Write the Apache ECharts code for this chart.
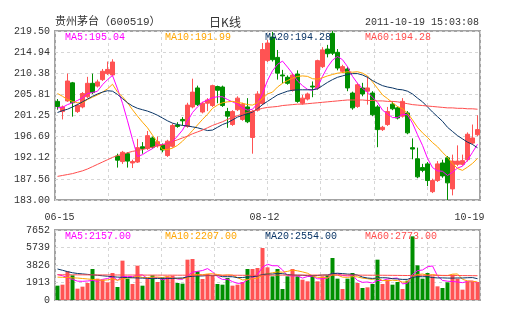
<!DOCTYPE html>
<html><head><meta charset="utf-8">
<script src="https://cdn.jsdelivr.net/npm/echarts@6/dist/echarts.min.js"></script>
<style>html,body{margin:0;padding:0;background:#fff}#c{width:505px;height:330px}</style>
</head><body><div id="c"></div>
<script>
const dates = ['06-15','06-16','06-17','06-20','06-21','06-22','06-23','06-24','06-27','06-28','06-29','06-30',
'07-01','07-04','07-05','07-06','07-07','07-08','07-11','07-12','07-13','07-14','07-15','07-18','07-19','07-20','07-21','07-22','07-25','07-26','07-27','07-28','07-29',
'08-01','08-02','08-03','08-04','08-05','08-08','08-09','08-10','08-11','08-12','08-15','08-16','08-17','08-18','08-19','08-22','08-23','08-24','08-25','08-26','08-29','08-30','08-31',
'09-01','09-02','09-05','09-06','09-07','09-08','09-09','09-13','09-14','09-15','09-16','09-19','09-20','09-21','09-22','09-23','09-26','09-27','09-28','09-29','09-30',
'10-10','10-11','10-12','10-13','10-14','10-17','10-18','10-19'];

const opens = [204.3,202.1,204.4,208.3,202.1,203.1,205.3,208.2,207.6,209.0,210.3,210.0,
192.5,191.3,193.0,191.0,191.2,194.5,194.1,196.4,194.7,194.9,192.6,194.6,199.2,200.4,198.9,203.1,207.2,202.0,203.9,203.4,207.5,
207.4,202.1,199.3,202.5,200.4,203.1,196.5,202.4,203.8,213.1,218.2,213.8,210.0,209.5,206.7,210.2,203.9,204.8,207.6,207.2,211.8,215.6,219.0,
214.9,210.8,211.3,206.1,203.2,207.2,206.5,206.1,203.1,198.2,199.3,203.7,202.9,201.1,201.8,194.3,191.9,190.0,190.8,184.8,187.2,
191.0,192.1,185.4,190.7,190.7,191.7,195.3,197.1];
const closes = [203.2,203.1,208.7,204.0,203.5,206.0,208.2,206.2,208.5,210.8,211.2,212.8,
191.6,193.3,191.4,191.3,194.3,194.1,196.9,194.4,195.6,193.8,195.7,199.1,198.9,200.1,203.5,206.3,203.6,203.9,204.6,207.7,206.7,
203.4,201.1,202.1,205.0,203.7,199.9,202.1,205.9,215.5,216.9,213.3,210.4,209.8,208.2,210.0,204.3,205.0,205.9,207.4,213.1,215.4,214.6,214.7,
211.5,211.8,207.2,202.9,207.9,205.9,207.2,201.4,198.2,198.7,202.1,202.7,200.7,204.3,197.5,194.0,188.0,189.4,187.2,187.2,190.8,
188.2,186.7,191.4,191.4,191.5,197.2,196.4,198.2];
const lows = [202.5,200.4,204.2,201.0,201.8,202.8,205.0,205.9,207.3,208.7,210.0,209.7,
190.0,190.8,190.0,189.9,191.0,193.0,193.8,194.1,194.3,193.3,192.3,194.3,198.6,199.1,198.6,202.8,203.3,201.7,202.2,203.1,203.9,
203.1,198.6,199.0,202.2,200.1,199.6,193.0,202.1,203.5,212.8,212.9,209.0,208.2,207.9,206.4,204.0,203.6,204.5,205.2,206.8,211.5,213.8,214.3,
211.0,210.4,206.5,202.5,202.9,205.4,203.6,201.1,194.4,197.9,199.0,202.4,200.4,200.8,197.2,191.8,187.7,189.0,186.0,184.5,186.9,
187.8,183.0,184.0,190.3,190.4,191.3,195.0,196.8];
const highs = [204.8,203.4,210.3,208.5,203.8,206.3,209.6,210.3,209.0,211.3,212.9,213.4,
193.0,193.6,193.3,191.7,196.2,195.5,197.9,196.7,196.7,195.2,196.0,199.5,199.8,200.9,204.0,209.2,207.7,204.2,205.0,207.9,207.7,
207.7,202.9,202.4,205.4,204.0,205.0,202.4,206.5,216.9,217.6,219.3,215.4,211.1,209.9,210.4,211.0,205.7,206.2,208.6,213.3,216.0,216.5,219.5,
215.6,212.2,211.8,206.4,208.3,208.3,209.7,206.5,203.5,199.0,203.1,204.3,203.2,205.0,202.2,196.3,194.3,190.8,191.2,187.6,191.4,
191.7,192.5,192.8,194.8,192.8,197.6,199.3,201.3];

const volumes = [1567,1676,3134,2697,1239,1458,1858,3389,2332,2223,1931,2952,
1421,4300,2332,1749,3753,1567,2332,2697,1968,2405,2587,2660,1858,1786,4409,4482,3134,2296,2842,2660,1749,
1676,2405,1567,1676,1968,3389,3389,3498,5685,3571,2587,3389,1203,2587,3389,2587,2223,2041,2697,2041,2587,2697,4591,
2332,1203,2332,2952,1858,1312,1385,1749,4409,1749,2223,1676,1968,1203,2114,6960,3790,2332,2952,2587,1494,
1312,1931,2769,2332,1130,2041,2041,1968];

const ma5 = [202.9,203.0,203.6,204.0,204.5,205.1,206.0,206.2,206.5,207.9,209.0,209.9,207.0,203.9,200.1,196.1,192.4,192.8,193.5,194.1,194.9,195.0,
195.2,195.6,196.8,198.1,200.0,201.9,203.1,204.1,204.6,205.1,205.3,205.3,204.7,204.2,203.7,202.9,202.4,202.6,203.8,206.0,208.8,
210.9,212.3,213.0,211.7,210.3,208.7,207.7,206.9,206.7,207.3,209.7,211.7,213.2,214.0,213.3,211.8,209.7,208.2,207.1,206.3,205.2,204.1,202.4,201.6,200.8,200.8,
201.5,201.4,199.6,197.1,194.8,192.0,190.0,189.3,189.2,188.3,189.0,189.9,190.3,191.6,193.3,195.04];
const ma10 = [206.0,205.4,204.7,204.3,204.0,204.0,204.7,205.2,205.7,206.3,207.0,208.0,206.3,205.3,204.0,202.5,201.1,199.8,198.6,197.0,195.5,193.9,
193.9,194.2,194.8,195.7,196.8,198.0,199.2,200.4,201.5,202.8,203.5,204.0,204.2,204.3,204.1,203.9,203.6,203.5,204.0,204.9,205.9,
206.3,207.4,208.2,208.8,209.3,209.7,
209.8,209.7,209.2,209.1,209.4,209.8,210.1,210.4,210.5,210.7,210.6,210.7,210.4,209.8,208.5,207.1,205.7,204.9,204.0,203.2,
202.7,201.8,200.3,198.7,197.5,196.5,195.4,194.5,193.3,192.2,190.9,189.8,189.4,190.1,190.9,191.99];
const ma20 = [201.9,202.3,202.6,203.1,203.6,204.2,204.8,205.4,205.9,206.3,206.6,206.5,205.8,204.9,204.0,203.3,202.8,202.5,202.2,201.8,201.3,200.7,200.1,
199.6,199.3,199.1,199.0,198.8,198.6,198.3,198.0,198.1,198.7,199.3,199.7,200.3,200.9,201.3,201.6,202.0,202.7,203.6,204.3,
205.0,205.7,206.1,206.5,206.7,206.8,206.8,206.8,206.8,207.0,207.7,208.4,209.0,209.5,209.8,210.1,210.3,210.3,210.0,209.5,208.8,208.2,207.7,207.4,207.2,206.9,
206.8,206.5,205.9,205.0,204.2,203.1,202.0,201.0,200.0,198.7,197.8,196.9,196.2,195.5,195.0,194.28];
const ma60 = [188.1,188.3,188.5,188.7,189.0,189.3,189.7,190.2,190.7,191.2,191.7,192.2,192.6,192.9,193.2,193.5,193.7,193.9,194.2,194.4,194.7,194.9,195.2,
195.6,196.0,196.4,196.8,197.3,197.7,198.1,198.6,199.1,199.5,199.9,200.4,200.8,201.2,201.6,201.9,202.2,202.5,202.8,203.0,
203.1,203.2,203.4,203.5,203.6,203.7,203.7,203.8,203.9,204.0,204.1,204.2,204.3,204.4,204.5,204.6,204.6,204.6,204.6,204.5,204.5,204.4,204.4,204.3,204.3,204.2,
204.0,203.8,203.6,203.5,203.4,203.3,203.2,203.1,203.0,202.9,202.9,202.8,202.8,202.7,202.7,202.6];

const vma5 = [2780,2650,2450,2250,2063,2041,2077,2128,2055,2252,2347,2565,2172,2565,2587,2551,2711,2740,2347,2420,2463,2194,2398,2463,2296,2259,2660,3039,3134,3221,3433,3083,2536,2245,2266,2011,1815,1858,2201,2398,2784,3586,3906,3746,3746,3287,2667,2631,2631,2398,2565,2587,2318,2318,2413,2923,2850,2682,2631,2682,2135,1931,1968,1851,2143,2121,2303,2361,2405,1764,1837,2784,3207,3280,3630,3724,2631,2135,2055,2019,1968,1895,2041,2063,1902];
const vma10 = [2500,2480,2450,2420,2400,2350,2300,2250,2200,2158,2194,2321,2150,2310,2420,2449,2638,2456,2456,2504,2507,2453,2569,2405,2358,2361,2427,2719,2799,2759,2846,2872,2788,2690,2744,2722,2449,2197,2223,2332,2398,2701,2882,2974,3072,3036,3127,3269,3189,3072,2926,2627,2475,2475,2406,2744,2719,2500,2475,2548,2529,2391,2325,2241,2413,2128,2117,2165,2128,1954,1979,2544,2784,2843,2697,2781,2708,2671,2668,2825,2846,2263,2088,2059,1961];
const vma20 = [3390,3250,3100,2980,2900,2850,2800,2750,2700,2650,2600,2550,2500,2480,2450,2430,2410,2390,2370,2331,2351,2387,2360,2358,2389,2405,2533,2588,2628,2632,2677,2663,2679,2548,2551,2542,2438,2458,2511,2546,2622,2787,2835,2832,2908,2879,2788,2733,2706,2702,2662,2664,2679,2725,2739,2890,2923,2885,2832,2810,2728,2509,2400,2358,2410,2436,2418,2333,2302,2251,2254,2468,2555,2542,2555,2455,2413,2418,2398,2390,2413,2404,2436,2451,2329];
const vma60 = [2760,2760,2755,2755,2750,2750,2745,2745,2740,2740,2740,2735,2735,2730,2730,2730,2725,2725,2720,2720,2720,
2715,2715,2715,2710,2710,2710,2710,2710,2715,2715,2715,2715,2710,2710,2705,2705,2700,2700,2700,2700,2705,
2710,2715,2720,2720,2720,2725,2725,2725,2725,2725,2725,2725,2725,2730,2730,2730,2730,2725,2720,2715,2710,
2705,2710,2705,2700,2695,2690,2680,2675,2690,2700,2700,2700,2700,2695,2690,2685,2680,2675,2670,2665,2660,2655];

const priceTicks = [183,187.5625,192.125,196.6875,201.25,205.8125,210.375,214.9375,219.5];
const priceTickLabels = ['183.00','187.56','192.12','196.69','201.25','205.81','210.38','214.94','219.50'];
const volTicks = [0,1913,3826,5739,7652];
const volTickLabels = ['0','1913','3826','5739','7652'];
const dateLabelIdx = [0,42,84];
const titleText = '贵州茅台（600519）';
const kindText = '日K线';
const timeText = '2011-10-19 15:03:08';
const priceLegend = ['MA5:195.04','MA10:191.99','MA20:194.28','MA60:194.28'];
const volLegend = ['MA5:2157.00','MA10:2207.00','MA20:2554.00','MA60:2773.00'];

const UP='#ff5353', DOWN='#008f00';
const maColors = ['#ff00ff','#ffa500','#0a3566','#ff4d4d'];
const MONO = '"Liberation Mono","DejaVu Sans Mono",monospace';
const TXT = '#333';

const candleData = opens.map((o,i)=>[o, closes[i], lows[i], highs[i]]);
const volData = volumes.map((v,i)=>({value:v, itemStyle:{color: closes[i]>=opens[i]?UP:DOWN}}));

const GL=55, GW=425;
const dashed = {show:true, lineStyle:{color:'#d6d6d6', type:[3,3], width:1}};
function lineSeries(name,data,color,xi,yi){
  return {name, type:'line', data, xAxisIndex:xi, yAxisIndex:yi, showSymbol:false, symbol:'none',
    lineStyle:{color, width:1}, itemStyle:{color}, animation:false, silent:true, z:3};
}
function tickLabel(ticks, labels){
  return (v)=>{const k=ticks.findIndex(t=>Math.abs(t-v)<1e-6); return k>=0?labels[k]:'';};
}
const graphics = [
  {type:'text', x:GL, y:22, style:{text:titleText, font:'11px '+MONO+',"Noto Sans CJK SC"', fill:TXT, textVerticalAlign:'middle', verticalAlign:'middle'}},
  {type:'text', x:225, y:22, style:{text:kindText, font:'12px "Noto Sans CJK SC"', fill:TXT, textAlign:'center', align:'center', textVerticalAlign:'middle', verticalAlign:'middle'}},
  {type:'text', x:479, y:22, style:{text:timeText, font:'10px '+MONO, fill:TXT, textAlign:'right', align:'right', textVerticalAlign:'middle', verticalAlign:'middle'}}
];
priceLegend.forEach((t,k)=>graphics.push({type:'text', x:65+100*k, y:37, z:10, style:{text:t, font:'10px '+MONO, fill:maColors[k], textVerticalAlign:'middle', verticalAlign:'middle'}}));
volLegend.forEach((t,k)=>graphics.push({type:'text', x:65+100*k, y:236, z:10, style:{text:t, font:'10px '+MONO, fill:maColors[k], textVerticalAlign:'middle', verticalAlign:'middle'}}));

const chart = echarts.init(document.getElementById('c'), null, {renderer:'canvas'});
chart.setOption({
  animation:false,
  backgroundColor:'#fff',
  grid:[
    {left:GL, top:31, width:GW, height:169, show:true, borderColor:'#a3a3a3', borderWidth:2, outerBoundsMode:'none', containLabel:false},
    {left:GL, top:230, width:GW, height:70, show:true, borderColor:'#a3a3a3', borderWidth:2, outerBoundsMode:'none', containLabel:false}
  ],
  xAxis:[
    {type:'category', gridIndex:0, data:dates, boundaryGap:true, axisLine:{show:false}, axisTick:{show:false}, splitLine:{show:false},
     axisLabel:{interval:(i)=>dateLabelIdx.indexOf(i)>=0, margin:12, color:TXT, fontFamily:MONO, fontSize:10,
       formatter:(v,i)=>{const k=dateLabelIdx.indexOf(i); return '{p'+k+'|'+v+'}';},
       rich:{p0:{padding:[0,0,0,4],fontFamily:MONO,fontSize:10,color:TXT}, p1:{padding:[0,6,0,0],fontFamily:MONO,fontSize:10,color:TXT}, p2:{padding:[0,16,0,0],fontFamily:MONO,fontSize:10,color:TXT}}}},
    {type:'value', gridIndex:0, min:0, max:8, interval:1, axisLine:{show:false}, axisTick:{show:false}, axisLabel:{show:false}, splitLine:dashed},
    {type:'category', gridIndex:1, data:dates, boundaryGap:true, axisLine:{show:false}, axisTick:{show:false}, axisLabel:{show:false}, splitLine:{show:false}},
    {type:'value', gridIndex:1, min:0, max:8, interval:1, axisLine:{show:false}, axisTick:{show:false}, axisLabel:{show:false}, splitLine:dashed}
  ],
  yAxis:[
    {type:'value', gridIndex:0, min:priceTicks[0], max:priceTicks[priceTicks.length-1], scale:true,
     axisLine:{show:false}, axisTick:{show:false, customValues:priceTicks},
     axisLabel:{customValues:priceTicks, margin:5, color:TXT, fontFamily:MONO, fontSize:10, formatter:tickLabel(priceTicks, priceTickLabels)},
     splitLine:dashed},
    {type:'value', gridIndex:1, min:volTicks[0], max:volTicks[volTicks.length-1], interval:volTicks[1]-volTicks[0],
     axisLine:{show:false}, axisTick:{show:false},
     axisLabel:{margin:5, color:TXT, fontFamily:MONO, fontSize:10, formatter:tickLabel(volTicks, volTickLabels)},
     splitLine:dashed}
  ],
  series:[
    {type:'candlestick', xAxisIndex:0, yAxisIndex:0, data:candleData, barWidth:3.6, z:2,
     itemStyle:{color:UP, color0:DOWN, borderColor:UP, borderColor0:DOWN, borderWidth:1}},
    lineSeries('MA5',ma5,maColors[0],0,0),
    lineSeries('MA10',ma10,maColors[1],0,0),
    lineSeries('MA20',ma20,maColors[2],0,0),
    lineSeries('MA60',ma60,maColors[3],0,0),
    {type:'bar', xAxisIndex:2, yAxisIndex:1, data:volData, barWidth:4, z:2, silent:true},
    lineSeries('VMA5',vma5,maColors[0],2,1),
    lineSeries('VMA10',vma10,maColors[1],2,1),
    lineSeries('VMA20',vma20,maColors[2],2,1),
    lineSeries('VMA60',vma60,maColors[3],2,1)
  ],
  graphic:graphics
});
</script></body></html>
